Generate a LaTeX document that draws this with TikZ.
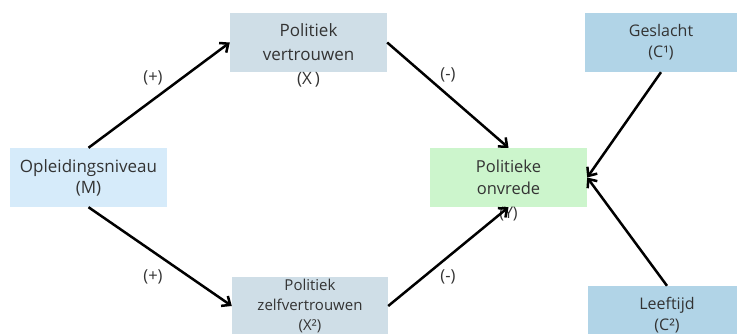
\documentclass[tikz,border=0pt]{standalone}
\usepackage{fontspec}
\setmainfont{Open Sans}
\usetikzlibrary{arrows.meta,positioning}
\definecolor{txtgray}{HTML}{333333}
\definecolor{lightblue}{HTML}{D6EBFA}
\definecolor{greyblue}{HTML}{CFDEE7}
\definecolor{lightgreen}{HTML}{CCF5CC}
\definecolor{midblue}{HTML}{B1D4E7}
\tikzset{
	box/.style={draw=none, align=center, text=txtgray, inner sep=0pt},
	lbl/.style={text=txtgray, inner sep=0pt, font=\fontsize{16.5}{18}\selectfont},
	arr/.style={-{Straight Barb[length=7pt,width=12pt]}, line width=2.5pt, black},
}
\begin{document}
\begin{tikzpicture}[x=1pt,y=-1pt]
		\useasboundingbox (0,0) rectangle (737,334);
		\clip (0,0) rectangle (737,334);
		
		%Independent variable
		\node[box, fill=lightblue, minimum width=157pt, minimum height=59pt, font=\fontsize{17}{21}\selectfont] (ople) at (88.5,177.5) {Opleidingsniveau\\(M)};
		
		%Mediators
		\node[box, fill=greyblue, minimum width=157pt, minimum height=59pt, font=\fontsize{17}{24}\selectfont] (vert) at (308.5,42.5) {Politiek\\vertrouwen};
		\node[lbl, font=\fontsize{17}{21}\selectfont, below=0pt of vert] (vertx) {(X\,)};
		\node[box, fill=greyblue, minimum width=156pt, minimum height=58pt, font=\fontsize{15}{20}\selectfont] (zelf) at (310,306) {Politiek\\zelfvertrouwen\\(X²)};
		
		%Dependent variable
		\node[box, fill=lightgreen, minimum width=157pt, minimum height=59pt, font=\fontsize{16.5}{22}\selectfont] (onv) at (508.5,177.5) {Politieke\\onvrede};
		\node[lbl, font=\fontsize{16}{20}\selectfont, below=0pt of onv] (onvy) {(Y)};
		
		%Controls
		\node[box, fill=midblue, minimum width=152pt, minimum height=59pt, font=\fontsize{16}{21}\selectfont] (gesl) at (661,42.5) {Geslacht\\(C¹)};
		\node[box, fill=midblue, minimum width=158pt, minimum height=58pt, font=\fontsize{16}{21}\selectfont] (leef) at (667,315) {Leeftijd\\(C²)};
		
		%Paths
		\draw[arr] (ople.north) -- (vert.west);
		\draw[arr] (ople.south) -- (zelf.west);
		\draw[arr] (vert.east) -- (onv.north);
		\draw[arr] (zelf.east) -- (onv.south);
		\draw[arr] (gesl.south) -- (onv.east);
		\draw[arr] (leef.north) -- (onv.east);
		
		%Signs
		\node[lbl] (s1) at (153,78) {(+)};
		\node[lbl] (s2) at (153,277) {(+)};
		\node[lbl] (s3) at (448,75) {(-)};
		\node[lbl] (s4) at (448,277) {(-)};
\end{tikzpicture}
\end{document}
